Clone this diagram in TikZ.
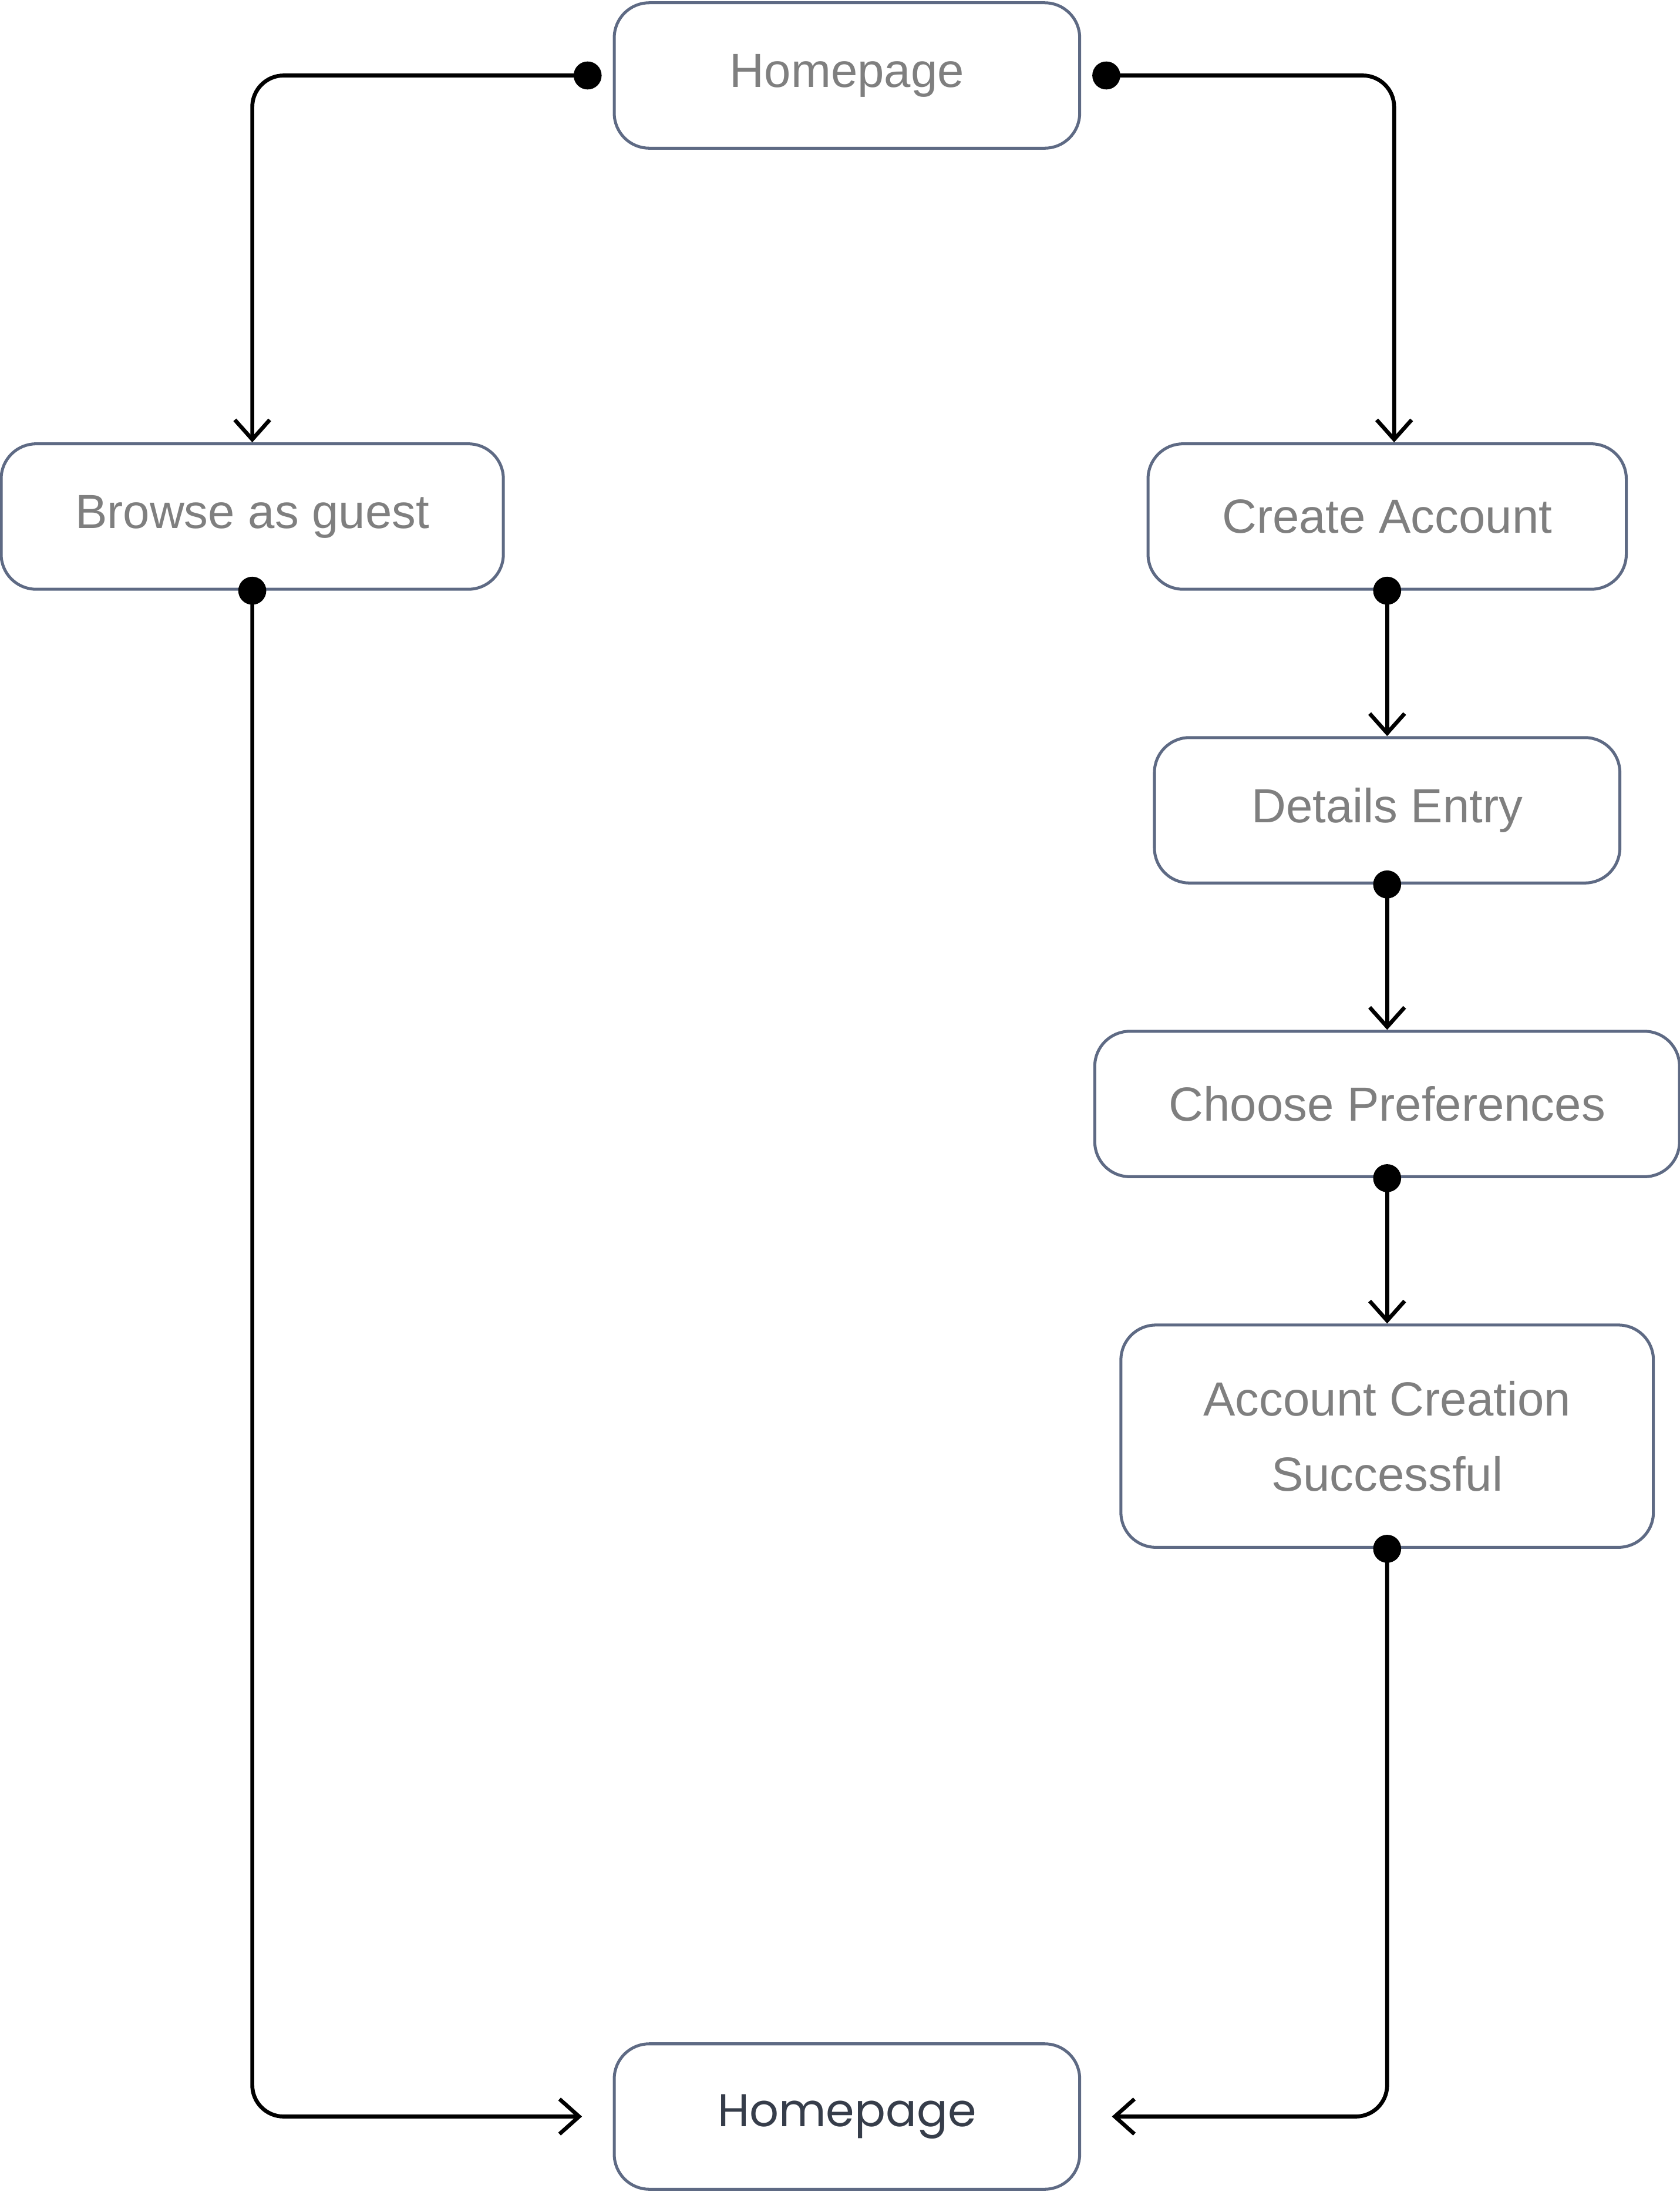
\documentclass[tikz,border=0pt]{standalone}
\usepackage{fontspec}
\setmainfont{Liberation Sans}
\newfontfamily\poppins{Poppins}
\usetikzlibrary{arrows.meta, positioning}
\definecolor{flowgray}{HTML}{7F7F7F}
\definecolor{flowslate}{HTML}{5E6A84}
\definecolor{flowdark}{HTML}{363D4A}

\begin{document}
\begin{tikzpicture}[
    node distance=2.08cm,
    screen/.style={draw=flowslate, line width=1.2pt, rounded corners=0.5cm, fill=white, text=flowgray, font=\fontsize{19.5}{30.6}\selectfont, align=center, minimum width=6.66cm, minimum height=2.08cm, inner xsep=1.06cm},
    link/.style={{Circle[length=0.4cm]}-{Straight Barb[length=0.28cm, width=0.5cm]}, line width=1.6pt, rounded corners=0.45cm}
]
\useasboundingbox (0,0) rectangle (24.04,-31.36);

% Nodes
\node[screen] (home) at (12.12,-1.08) {Homepage};
\node[screen] (guest) at (3.61,-7.39) {Browse as guest};
\node[screen] (create) at (19.85,-7.39) {Create Account};
\node[screen, below=of create] (details) {Details Entry};
\node[screen, below=of details] (prefs) {Choose Preferences};
\node[screen, below=of prefs, minimum width=7.62cm, minimum height=3.18cm] (done) {Account Creation\\Successful};
\node[screen, text=flowdark, font=\poppins\fontsize{18.7}{30.6}\selectfont] (back) at (12.12,-30.28) {Homepage};

% Connections
\draw[link, shorten <=0.16cm] (home.west) -| (guest.north);
\draw[link, shorten <=0.16cm] (home.east) -| ([xshift=0.1cm]create.north);

\draw[link, shorten <=-0.2cm] (create.south) -- (details.north);
\draw[link, shorten <=-0.2cm] (details.south) -- (prefs.north);
\draw[link, shorten <=-0.2cm] (prefs.south) -- (done.north);

\draw[link, shorten <=-0.2cm, shorten >=0.44cm] (guest.south) |- (back.west);
\draw[link, shorten <=-0.2cm, shorten >=0.44cm] (done.south) |- (back.east);

\end{tikzpicture}
\end{document}
